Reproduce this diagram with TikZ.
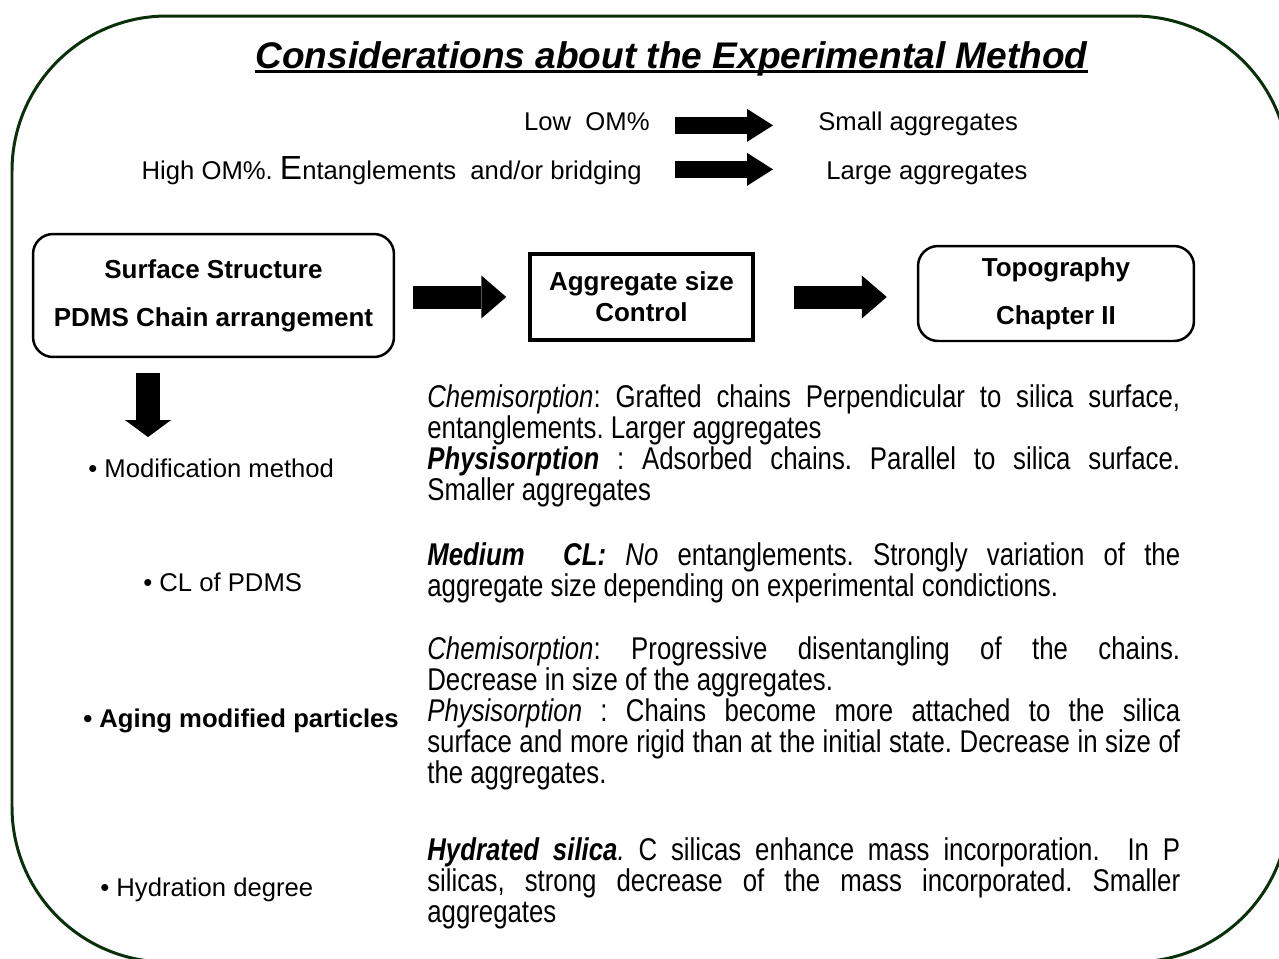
\documentclass[tikz,border=0pt]{standalone}
\usepackage{fontspec}
\setmainfont{Liberation Sans}
\newfontfamily\narrowfont[FakeStretch=0.82]{Liberation Sans}
\usetikzlibrary{calc}
\usetikzlibrary{arrows.meta}

\definecolor{framegreen}{RGB}{10,48,10}

\begin{document}
\frenchspacing
\begin{tikzpicture}[x=0.02cm, y=-0.02cm,
		txt/.style={inner sep=0pt, font=\fontsize{14.6}{17.5}\selectfont},
		para/.style={inner sep=0pt, anchor=north west, text width=15.06cm, align=justify, font=\narrowfont\fontsize{17.9}{17.75}\selectfont},
		rbox/.style={draw, line width=0.5mm, rounded corners=4mm, align=center, font=\bfseries\fontsize{14.8}{27.2}\selectfont},
		sbox/.style={draw, line width=0.7mm, align=center, font=\bfseries\fontsize{14.8}{17.6}\selectfont},
		fatsmall/.style={line width=3.4mm, -{Triangle[length=5.2mm, width=6.6mm, line width=0pt]}},
		fatmid/.style={line width=4.6mm, -{Triangle[length=5mm, width=8.6mm, line width=0pt]}},
		fatdown/.style={line width=4.8mm, -{Triangle[length=3.4mm, width=9.2mm, line width=0pt]}}]
		\useasboundingbox (0,0) rectangle (1279,958);
		\draw[framegreen, line width=0.6mm, rounded corners=3.1cm] (12,16) rectangle (1289,962);

		% Title
		\node[inner sep=0pt, anchor=base, font=\bfseries\itshape\fontsize{21.1}{24}\selectfont] (title) at (671.5,68) {Considerations about the Experimental Method};
		\draw[line width=0.7mm] ($(title.base west)+(0,3.5)$) -- ($(title.base east)+(0,3.5)$);

		% OM% effect
		\node[txt, anchor=base east] (lowom) at (650,130) {Low\ \ OM\%};
		\node[txt, anchor=base west] (small) at (818,130) {Small aggregates};
		\node[txt, anchor=base east] (high) at (642,179) {High OM\%. {\fontsize{19}{19}\selectfont E}ntanglements\ \ and/or bridging};
		\node[txt, anchor=base west] (large) at (826,179) {Large aggregates};

		\draw[fatsmall, shorten <=5mm, shorten >=9mm] (lowom.mid east) -- (lowom.mid east -| small.west);
		\draw[fatsmall, shorten <=6.6mm, shorten >=10.6mm] ([yshift=1mm]high.mid east) -- ([yshift=1mm]high.mid east -| large.west);

		% Main chain
		\node[rbox, minimum width=7.22cm, minimum height=2.46cm] (surf) at (213.5,295.5) {Surface Structure\\PDMS Chain arrangement};
		\node[sbox, minimum width=4.46cm, minimum height=1.72cm] (agg) at (641.5,297) {Aggregate size\\Control};
		\node[rbox, minimum width=5.52cm, minimum height=1.9cm] (topo) at (1056,293.5) {Topography\\Chapter II};

		\draw[fatmid, shorten <=3.6mm, shorten >=4.4mm] (agg.west -| surf.east) -- (agg.west);
		\draw[fatmid, shorten <=7.8mm, shorten >=6mm] (agg.east) -- (agg.east -| topo.west);

		% Parameters
		\node[txt, anchor=base west] (modif) at (88,477) {• Modification method};
		\node[txt, anchor=base west] (clpdms) at (143,591) {• CL of PDMS};
		\node[txt, anchor=base west, font=\bfseries\fontsize{14.6}{17.5}\selectfont] (aging) at (83,727) {• Aging modified particles};
		\node[txt, anchor=base west] (hydr) at (100,896) {• Hydration degree};

		\coordinate (dn) at (148,0);
		\draw[fatdown, shorten <=3mm, shorten >=4.2mm] (surf.south -| dn) -- (modif.north -| dn);

		% Descriptions
		\node[para] (modiftext) at (427,384) {\textit{Chemisorption}: Grafted chains Perpendicular to silica surface,\linebreak entanglements. Larger aggregates\\\textbf{\textit{Physisorption}} : Adsorbed chains. Parallel to silica surface.\linebreak Smaller aggregates};
		\node[para] (cltext) at (427,542) {\textbf{\textit{Medium\ \ CL:}} \textit{No} entanglements. Strongly variation of the\linebreak aggregate size depending on experimental condictions.};
		\node[para] (agingtext) at (427,636) {\textit{Chemisorption}: Progressive disentangling of the chains.\linebreak Decrease in size of the aggregates.\\\textit{Physisorption} : Chains become more attached to the silica\linebreak surface and more rigid than at the initial state. Decrease in size of\linebreak the aggregates.};
		\node[para] (hydrtext) at (427,837) {\textbf{\textit{Hydrated silica}}\textit{.} C silicas enhance mass incorporation.\ \ In P\linebreak silicas, strong decrease of the mass incorporated. Smaller\linebreak aggregates};

	\end{tikzpicture}
\end{document}
